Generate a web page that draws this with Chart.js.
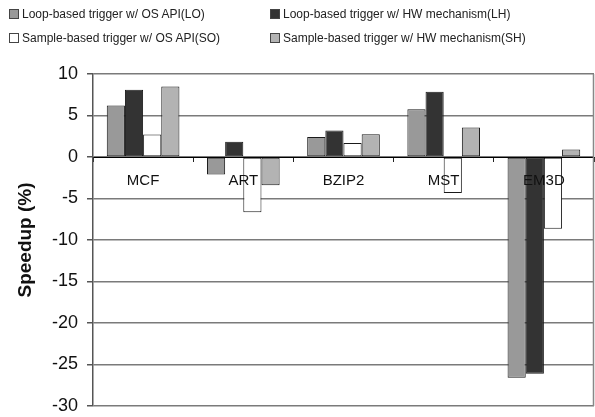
<!DOCTYPE html>
<html lang="en">
<head>
    <meta charset="UTF-8">
    <title>Speedup</title>
    <script src="https://cdn.jsdelivr.net/npm/chart.js"></script>
    <style>
        html, body { margin: 0; padding: 0; background: #fff; }
        #wrap { position: relative; width: 595px; height: 417px; }
        #legend {
            position: absolute; left: 0; top: 0; width: 595px; height: 60px;
            font-family: "Liberation Sans", Arial, sans-serif; font-size: 12px; color: #222;
        }
        .item { position: absolute; white-space: nowrap; line-height: 14px; }
        .box {
            display: inline-block; width: 8px; height: 8px; border: 1px solid #444;
            margin-right: 3px; vertical-align: -1px;
        }
    </style>
</head>
<body>
<div id="wrap">
    <canvas id="myBarChart" width="595" height="417"></canvas>
    <div id="legend"></div>
</div>
<script>
    // benchmarks
    const categories = ["MCF", "ART", "BZIP2", "MST", "EM3D"];

    // speedup (%) per scheme
    const loValues = [6.2, -2.1, 2.4, 5.75, -26.6];
    const lhValues = [8.1, 1.85, 3.2, 7.85, -26.1];
    const soValues = [2.7, -6.65, 1.7, -4.35, -8.65];
    const shValues = [8.5, -3.4, 2.75, 3.55, 0.9];

    const seriesLabels = [
        "Loop-based trigger w/ OS API(LO)",
        "Loop-based trigger w/ HW mechanism(LH)",
        "Sample-based trigger w/ OS API(SO)",
        "Sample-based trigger w/ HW mechanism(SH)"
    ];
    const seriesColors = ["#999999", "#333333", "#ffffff", "#b3b3b3"];
    const yTicks = [10, 5, 0, -5, -10, -15, -20, -25, -30];

    const allValues = [loValues, lhValues, soValues, shValues];
    const datasets = allValues.map((vals, i) => ({
        label: seriesLabels[i],
        data: vals,
        backgroundColor: seriesColors[i],
        borderColor: "#1a1a1a",
        borderWidth: 1,
        borderSkipped: false,
        categoryPercentage: 0.725,
        barPercentage: 1
    }));

    // legend in two columns like the original
    const legendPos = [[9, 7], [270, 7], [9, 31], [270, 31]];
    const legendEl = document.getElementById("legend");
    seriesLabels.forEach((label, i) => {
        const item = document.createElement("div");
        item.className = "item";
        item.style.left = legendPos[i][0] + "px";
        item.style.top = legendPos[i][1] + "px";
        item.innerHTML = '<span class="box" style="background:' + seriesColors[i] + '"></span>' + label;
        legendEl.appendChild(item);
    });

    // right border of the plot
    const frame = {
        id: "frame",
        beforeDatasetsDraw(chart) {
            const { ctx, chartArea } = chart;
            ctx.save();
            ctx.strokeStyle = "#888";
            ctx.lineWidth = 1.5;
            ctx.beginPath();
            ctx.moveTo(chartArea.right - 0.5, chartArea.top);
            ctx.lineTo(chartArea.right - 0.5, chartArea.bottom);
            ctx.stroke();
            ctx.restore();
        }
    };

    const ctx = document.getElementById("myBarChart").getContext("2d");
    new Chart(ctx, {
        type: "bar",
        data: { labels: categories, datasets: datasets },
        plugins: [frame],
        options: {
            responsive: false,
            animation: false,
            layout: { padding: { top: 74, right: 1, bottom: 11, left: 0 } },
            plugins: { legend: { display: false }, tooltip: { enabled: false } },
            scales: {
                x: {
                    position: { y: 0 },
                    afterFit: s => { s.height = 0; s.paddingLeft = 0; s.paddingRight = 0; s.paddingTop = 0; s.paddingBottom = 0; },
                    grid: { drawOnChartArea: false, drawTicks: true, tickLength: 4, color: "#222", offset: true },
                    border: { color: "#000", width: 1 },
                    ticks: { z: 1, color: "#111", padding: 11, font: { family: "Liberation Sans", size: 15 } }
                },
                y: {
                    min: -30,
                    max: 10,
                    afterFit: s => { s.width = 93; s.paddingTop = 0; s.paddingBottom = 0; },
                    afterBuildTicks: s => { s.ticks = yTicks.map(v => ({ value: v })); },
                    grid: { color: "#7a7a7a", lineWidth: 1.5, tickLength: 6, tickColor: "#555" },
                    border: { color: "#555", width: 1.5 },
                    ticks: { color: "#111", padding: 9, font: { family: "Liberation Sans", size: 18 } },
                    title: {
                        display: true,
                        text: "Speedup (%)",
                        color: "#111",
                        padding: { top: 14, bottom: 0 },
                        font: { family: "Liberation Sans", size: 19, weight: "bold" }
                    }
                }
            }
        }
    });
</script>
</body>
</html>
